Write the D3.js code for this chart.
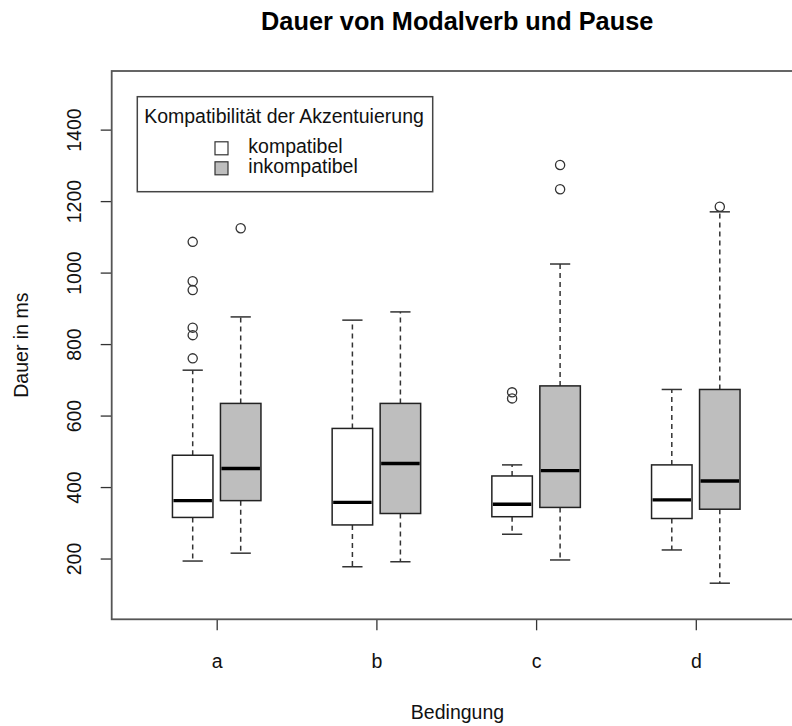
<!DOCTYPE html>
<meta charset="utf-8">
<title>Dauer von Modalverb und Pause</title>
<style>
  body { margin: 0; background: white; }
  svg { font-family: "Liberation Sans", Arial, sans-serif; }
  .box { stroke: #222; stroke-width: 1.5px; }
  .median { stroke: #000; stroke-width: 3.4px; }
  .whisker { stroke: #333; stroke-width: 1.5px; stroke-dasharray: 5,4; }
  .cap { stroke: #333; stroke-width: 1.5px; }
  .outlier { fill: none; stroke: #333; stroke-width: 1.3px; }
  .frame { fill: none; stroke: #555; stroke-width: 1.8px; }
</style>
<body>
<div id="chart"></div>
<script src="https://d3js.org/d3.v7.min.js"></script>
<script>

// conditions on the x axis and the two groups per condition
const conditions = ["a", "b", "c", "d"];
const groups = ["kompatibel", "inkompatibel"];

// box statistics (ms)
const kompLower   = [193, 177, 268, 224];
const kompQ1      = [315, 294, 317, 312];
const kompMedian  = [362, 357, 352, 364];
const kompQ3      = [489, 564, 431, 462];
const kompUpper   = [727, 867, 462, 673];
const kompOutliers = [[760, 825, 846, 951, 976, 1086], [], [648, 665], []];

const inkLower   = [215, 191, 196, 131];
const inkQ1      = [362, 326, 343, 338];
const inkMedian  = [452, 466, 446, 417];
const inkQ3      = [634, 634, 683, 673];
const inkUpper   = [876, 890, 1024, 1170];
const inkOutliers = [[1124], [], [1233, 1301], [1184]];

const yTicks = [200, 400, 600, 800, 1000, 1200, 1400];

// build one record per box
var boxes = [];
conditions.forEach(function(c, i) {
  boxes.push({cond: c, group: "kompatibel", lo: kompLower[i], q1: kompQ1[i], med: kompMedian[i], q3: kompQ3[i], hi: kompUpper[i], out: kompOutliers[i]});
  boxes.push({cond: c, group: "inkompatibel", lo: inkLower[i], q1: inkQ1[i], med: inkMedian[i], q3: inkQ3[i], hi: inkUpper[i], out: inkOutliers[i]});
});

const W = 792, H = 726;
const plot = {left: 111.7, right: 802.6, top: 71, bottom: 619.3};
const boxW = 40.5;

var svg = d3.select("#chart").append("svg")
    .attr("width", W)
    .attr("height", H);

var x = d3.scalePoint()
    .domain(conditions)
    .range([216.7, 695.8]);

var xSub = d3.scalePoint()
    .domain(groups)
    .range([-24, 24]);

var y = d3.scaleLinear()
    .domain([30, 1564])
    .range([plot.bottom, plot.top]);

var fill = d3.scaleOrdinal()
    .domain(groups)
    .range(["#ffffff", "#bebebe"]);

// title
svg.append("text")
    .attr("x", 457.2)
    .attr("y", 30)
    .attr("text-anchor", "middle")
    .style("font-size", "25.3px")
    .style("font-weight", "bold")
    .text("Dauer von Modalverb und Pause");

// y axis
var yAxis = svg.append("g")
    .attr("transform", "translate(" + plot.left + ",0)")
    .call(d3.axisLeft(y).tickValues(yTicks).tickSize(11).tickFormat(d3.format("d")));
yAxis.select(".domain").remove();
yAxis.selectAll("line").attr("stroke", "#333").attr("stroke-width", 1.3);
yAxis.selectAll("text")
    .attr("x", null).attr("dy", null)
    .attr("transform", "translate(-31,0) rotate(-90)")
    .attr("text-anchor", "middle")
    .attr("fill", "#111")
    .style("font-size", "19.5px")
    .style("font-family", "Liberation Sans, Arial, sans-serif");

// x axis
var xAxis = svg.append("g")
    .attr("transform", "translate(0," + plot.bottom + ")")
    .call(d3.axisBottom(x).tickSize(11));
xAxis.select(".domain").remove();
xAxis.selectAll("line").attr("stroke", "#333").attr("stroke-width", 1.3);
xAxis.selectAll("text")
    .attr("y", 49).attr("dy", null)
    .attr("fill", "#111")
    .style("font-size", "19.5px")
    .style("font-family", "Liberation Sans, Arial, sans-serif");

// axis titles
svg.append("text")
    .attr("x", 457.5)
    .attr("y", 719)
    .attr("text-anchor", "middle")
    .style("font-size", "19.5px")
    .attr("fill", "#111")
    .text("Bedingung");

svg.append("text")
    .attr("transform", "translate(28," + ((plot.top + plot.bottom) / 2) + ") rotate(-90)")
    .attr("text-anchor", "middle")
    .style("font-size", "19.5px")
    .attr("fill", "#111")
    .text("Dauer in ms");

// boxplots
var g = svg.selectAll(".boxg")
    .data(boxes)
    .enter().append("g")
    .attr("class", "boxg")
    .attr("transform", function(d) { return "translate(" + (x(d.cond) + xSub(d.group)) + ",0)"; });

g.append("line").attr("class", "whisker")
    .attr("x1", 0).attr("x2", 0)
    .attr("y1", function(d) { return y(d.q3); })
    .attr("y2", function(d) { return y(d.hi); });
g.append("line").attr("class", "whisker")
    .attr("x1", 0).attr("x2", 0)
    .attr("y1", function(d) { return y(d.q1); })
    .attr("y2", function(d) { return y(d.lo); });
g.append("line").attr("class", "cap")
    .attr("x1", -boxW / 4).attr("x2", boxW / 4)
    .attr("y1", function(d) { return y(d.hi); })
    .attr("y2", function(d) { return y(d.hi); });
g.append("line").attr("class", "cap")
    .attr("x1", -boxW / 4).attr("x2", boxW / 4)
    .attr("y1", function(d) { return y(d.lo); })
    .attr("y2", function(d) { return y(d.lo); });

g.append("rect").attr("class", "box")
    .attr("x", -boxW / 2)
    .attr("width", boxW)
    .attr("y", function(d) { return y(d.q3); })
    .attr("height", function(d) { return y(d.q1) - y(d.q3); })
    .attr("fill", function(d) { return fill(d.group); });

g.append("line").attr("class", "median")
    .attr("x1", -boxW / 2 + 1).attr("x2", boxW / 2 - 1)
    .attr("y1", function(d) { return y(d.med); })
    .attr("y2", function(d) { return y(d.med); });

g.selectAll(".outlier")
    .data(function(d) { return d.out; })
    .enter().append("circle")
    .attr("class", "outlier")
    .attr("cx", 0)
    .attr("cy", function(d) { return y(d); })
    .attr("r", 4.6);

// plot frame
svg.append("rect").attr("class", "frame")
    .attr("x", plot.left).attr("y", plot.top)
    .attr("width", plot.right - plot.left)
    .attr("height", plot.bottom - plot.top);

// legend
var leg = svg.append("g");
leg.append("rect")
    .attr("x", 137.3).attr("y", 96.7)
    .attr("width", 295.4).attr("height", 95)
    .attr("fill", "white")
    .attr("stroke", "#444")
    .attr("stroke-width", 1.5);
leg.append("text")
    .attr("x", 284)
    .attr("y", 123.3)
    .attr("text-anchor", "middle")
    .style("font-size", "19.5px")
    .attr("fill", "#111")
    .text("Kompatibilität der Akzentuierung");

var items = leg.selectAll(".item")
    .data(groups)
    .enter().append("g")
    .attr("transform", function(d, i) { return "translate(0," + (148.3 + i * 20) + ")"; });
items.append("rect")
    .attr("x", 215).attr("y", -6.5)
    .attr("width", 13).attr("height", 13)
    .attr("fill", function(d) { return fill(d); })
    .attr("stroke", "#333")
    .attr("stroke-width", 1.2);
items.append("text")
    .attr("x", 248.3)
    .attr("y", 5)
    .style("font-size", "19.5px")
    .attr("fill", "#111")
    .text(function(d) { return d; });

</script>
</body>
